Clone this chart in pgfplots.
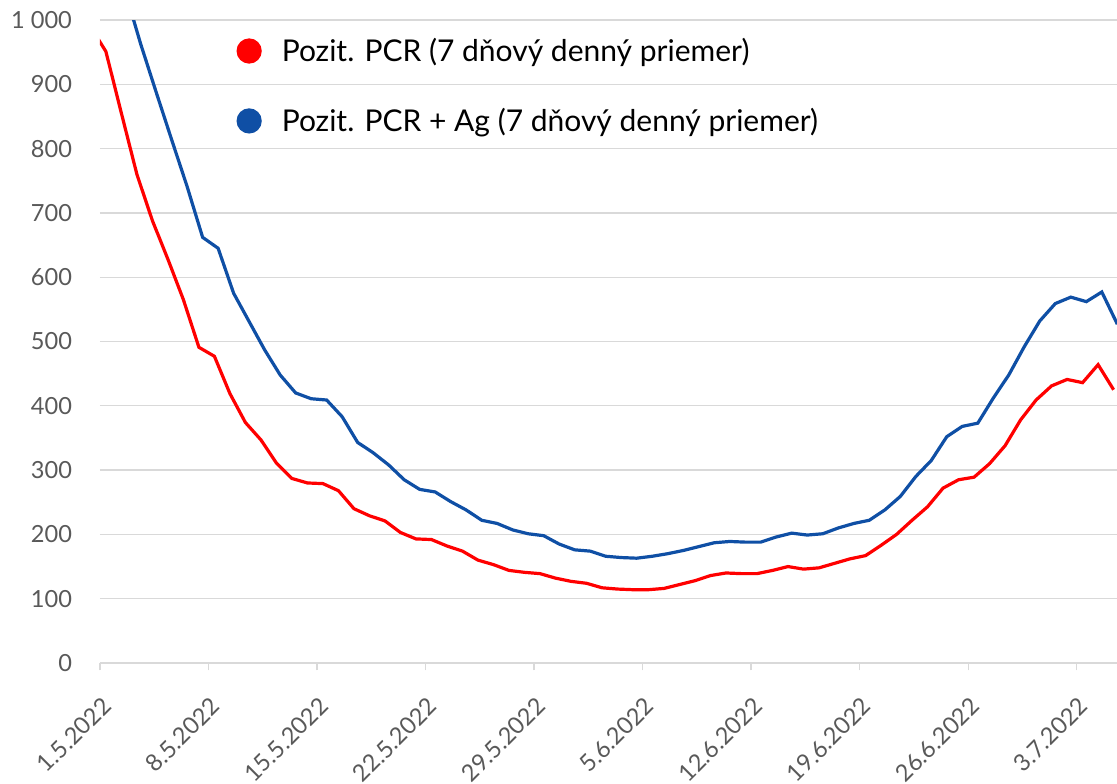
\documentclass[border=0pt]{standalone}
\usepackage{fontspec}
\setmainfont{Lato}
\usepackage{pgfplots}
\usepackage{pgfplotstable}
\pgfplotsset{compat=1.18}
\usetikzlibrary{calc}
\definecolor{myred}{HTML}{FF0000}
\definecolor{myblue}{HTML}{0F4FA5}
\definecolor{tickgray}{HTML}{595959}
\definecolor{gridgray}{HTML}{D9D9D9}

\pgfplotstableread{
x y
-0.62 990
0.38 951
1.38 855
2.38 760
3.38 688
4.38 628
5.38 565
6.38 491
7.38 477
8.38 419
9.38 374
10.38 347
11.38 311
12.38 287
13.38 280
14.38 279
15.38 268
16.38 240
17.38 229
18.38 221
19.38 203
20.38 193
21.38 192
22.38 182
23.38 174
24.38 160
25.38 153
26.38 144
27.38 141
28.38 139
29.38 132
30.38 127
31.38 124
32.38 117
33.38 115
34.38 114
35.38 114
36.38 116
37.38 122
38.38 128
39.38 136
40.38 140
41.38 139
42.38 139
43.38 144
44.38 150
45.38 146
46.38 148
47.38 155
48.38 162
49.38 167
50.38 183
51.38 200
52.38 222
53.38 243
54.38 272
55.38 285
56.38 289
57.38 310
58.38 338
59.38 378
60.38 409
61.38 431
62.38 441
63.38 436
64.38 464
65.38 425
}\redtable

\pgfplotstableread{
x y
0.62 1130
1.62 1045
2.62 963
3.62 888
4.62 814
5.62 741
6.62 662
7.62 645
8.62 575
9.62 531
10.62 487
11.62 448
12.62 420
13.62 411
14.62 409
15.62 383
16.62 343
17.62 327
18.62 308
19.62 285
20.62 270
21.62 266
22.62 251
23.62 238
24.62 222
25.62 217
26.62 207
27.62 201
28.62 198
29.62 185
30.62 176
31.62 174
32.62 166
33.62 164
34.62 163
35.62 166
36.62 170
37.62 175
38.62 181
39.62 187
40.62 189
41.62 188
42.62 188
43.62 196
44.62 202
45.62 199
46.62 201
47.62 210
48.62 217
49.62 222
50.62 238
51.62 259
52.62 290
53.62 315
54.62 352
55.62 368
56.62 373
57.62 412
58.62 448
59.62 492
60.62 532
61.62 559
62.62 569
63.62 562
64.62 577
65.62 527
}\bluetable

\begin{document}
\begin{tikzpicture}
\begin{axis}[
  scale only axis, width=762.75pt, height=482.25pt,
  xmin=0, xmax=65.6, ymin=0, ymax=1000,
  axis x line=bottom, axis y line=left,
  x axis line style={draw=gridgray, line width=1pt, -},
  y axis line style={draw=none, -},
  xtick={0,7,...,63},
  xticklabels={1.5.2022,8.5.2022,15.5.2022,22.5.2022,29.5.2022,5.6.2022,12.6.2022,19.6.2022,26.6.2022,3.7.2022},
  ytick={0,100,...,1000},
  yticklabels={0,100,200,300,400,500,600,700,800,900,1 000},
  tick align=outside,
  major tick length=5.5pt,
  xtick style={draw=gridgray, line width=1pt},
  ytick style={draw=none},
  ymajorgrids, grid style={draw=gridgray, line width=1pt},
  tick label style={text=tickgray, font=\fontsize{17.7}{20}\selectfont},
  yticklabel style={anchor=east, xshift=-12pt},
  xticklabel style={xshift=0.6pt, yshift=-14pt, rotate=45, anchor=north east},
  legend cell align=left,
  legend image code/.code={\fill (0.3cm,0cm) circle (8.25pt); \path[draw=none, fill=none] (0cm,0cm) -- (31pt,0cm);},
  legend style={draw=none, fill=none, at={(0.134,0.976)}, anchor=north west,
    font=\fontsize{22.5}{27}\selectfont, row sep=29.5pt, inner sep=0pt},
]
\addplot[myred, line width=2.4pt] table[x=x, y=y] {\redtable};
\addlegendentry{Pozit. PCR (7 dňový denný priemer)}
\addplot[myblue, line width=2.4pt] table[x=x, y=y] {\bluetable};
\addlegendentry{Pozit. PCR + Ag (7 dňový denný priemer)}
\end{axis}
\pgfresetboundingbox
\path[use as bounding box] ($(current axis.south west)+(-75pt,-90pt)$) rectangle ($(current axis.north east)+(0pt,15pt)$);
\end{tikzpicture}
\end{document}
